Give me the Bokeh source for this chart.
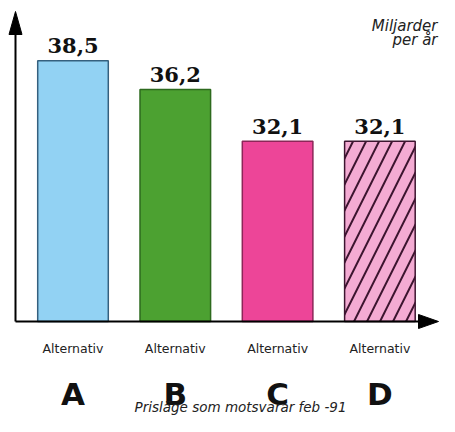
from bokeh.plotting import figure
from bokeh.models import Range1d, ColumnDataSource
from bokeh.core.properties import value
from bokeh.embed import file_html
from bokeh.resources import INLINE

# ---- data ----
categories = ["A", "B", "C", "D"]
values = [38.5, 36.2, 32.1, 32.1]
category_word = "Alternativ"
unit_lines = ["Miljarder", "per år"]
footnote = "Prisläge som motsvarar feb -91"
fill_colors = ["#92d2f3", "#4ca131", "#ed4598", "#f4abd3"]
line_colors = ["#35607e", "#2d6a1e", "#8c2658", "#3d1530"]
hatches = [" ", " ", " ", "/"]

# ---- layout helpers (picture pixel -> data coords) ----
W, H = 439, 416
PX_X0, PX_PER_CAT = 72.5, 102.3
PX_Y_REF, V_REF, PX_PER_UNIT = 96.67, 35.6, 12.6


def dx(px):
    return (px - PX_X0) / PX_PER_CAT


def dy(py):
    return V_REF - (py - PX_Y_REF) / PX_PER_UNIT


BASE = dy(321)

p = figure(width=W, height=H, output_backend="svg", toolbar_location=None,
           x_range=Range1d(dx(0), dx(W)), y_range=Range1d(dy(H), dy(0)),
           x_axis_type=None, y_axis_type=None, min_border=0)
p.outline_line_color = None
p.grid.visible = False
p.background_fill_color = "white"

xs = list(range(len(categories)))
src = ColumnDataSource(dict(
    x=xs, top=values, color=fill_colors, line=line_colors, hatch=hatches,
    label=[f"{v:.1f}".replace(".", ",") for v in values],
    word=[category_word] * len(categories), cat=categories,
))

p.vbar(x="x", top="top", bottom=BASE, width=0.69, source=src,
       fill_color="color", line_color="line", line_width=1.5,
       hatch_pattern="hatch", hatch_color="#3d1530", hatch_scale=26, hatch_weight=2)

p.text(x="x", y="top", text="label", source=src, y_offset=-15,
       text_align="center", text_baseline="alphabetic",
       text_font=value("DejaVu Serif"), text_font_style="bold",
       text_font_size="21px", text_color="#111111")

p.text(x="x", y=dy(348), text="word", source=src, text_align="center",
       text_baseline="alphabetic", text_font=value("DejaVu Sans"),
       text_font_size="12.5px", text_color="#222222")

p.text(x="x", y=dy(393), text="cat", source=src, text_align="center",
       text_baseline="alphabetic", text_font=value("DejaVu Sans"),
       text_font_style="bold", text_font_size="31px", text_color="#111111")

p.text(x=[dx(437), dx(437)], y=[dy(25), dy(39)], text=unit_lines,
       text_align="right", text_baseline="alphabetic",
       text_font=value("DejaVu Sans"), text_font_style="italic",
       text_font_size="15px", text_color="#222222")

p.text(x=[dx(240)], y=[dy(406)], text=[footnote], text_align="center",
       text_baseline="alphabetic", text_font=value("DejaVu Sans"),
       text_font_style="italic", text_font_size="13.5px", text_color="#222222")

# axes with arrowheads
p.segment(x0=[dx(15), dx(15)], y0=[BASE, BASE], x1=[dx(15), dx(422)],
          y1=[dy(30), BASE], line_color="black", line_width=2)
p.patches(xs=[[dx(15), dx(8.5), dx(21.5)], [dx(438), dx(418), dx(418)]],
          ys=[[dy(11), dy(34), dy(34)], [BASE, dy(314), dy(328)]],
          fill_color="black", line_color="black", line_width=1)

open("out.html", "w").write(file_html(p, INLINE))
